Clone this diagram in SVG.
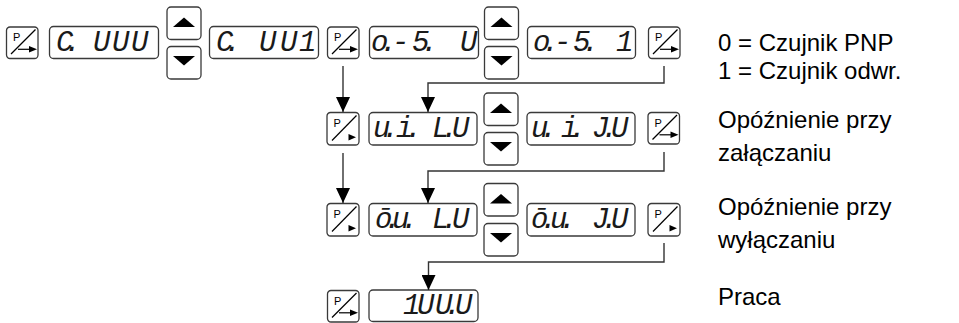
<svg xmlns="http://www.w3.org/2000/svg" width="959" height="323" viewBox="0 0 959 323">
  <style>
    .frame{fill:#fff;stroke:#3a3a3a;stroke-width:1.3}
    .ink{fill:#000;stroke:none}
    .stroke{fill:none;stroke:#000;stroke-width:1.2}
    .pch{font-family:"Liberation Sans",Arial,sans-serif;font-size:11px;fill:#000}
    .seg{font-family:"Liberation Mono","Courier New",monospace;font-style:italic;font-size:29px;fill:#1a1a1a}
    .lbl{font-family:"Liberation Sans",Arial,sans-serif;font-size:24px;fill:#000}
    .wire{fill:none;stroke:#333;stroke-width:1.4}
  </style>
  <defs>
    <!-- P key with arrow shaft -->
    <g id="pkey">
      <rect class="frame" x="0.5" y="0.5" width="31.5" height="31.5" rx="3.5"/>
      <text class="pch" x="7" y="14.5">P</text>
      <line class="stroke" x1="5" y1="27.5" x2="29.5" y2="3"/>
      <line class="stroke" x1="12" y1="22.8" x2="24" y2="22.8" stroke-width="1.7"/>
      <polygon class="ink" points="23,19.6 31,22.8 23,26"/>
    </g>
    <!-- P key with bare triangle -->
    <g id="pkey-tri">
      <rect class="frame" x="0.5" y="0.5" width="32" height="32.5" rx="3.5"/>
      <text class="pch" x="7" y="15">P</text>
      <line class="stroke" x1="5.5" y1="28.5" x2="30" y2="3.5"/>
      <polygon class="ink" points="22,22 29.5,25.3 22,28.5"/>
    </g>
    <g id="key-up">
      <rect class="frame" x="0.5" y="0.5" width="34" height="32.5" rx="4"/>
      <polygon class="ink" points="6.5,20.6 17.5,11 28.5,20.6"/>
    </g>
    <g id="key-down">
      <rect class="frame" x="0.5" y="0.5" width="34" height="32.5" rx="4"/>
      <polygon class="ink" points="6.5,10 28.5,10 17.5,19.6"/>
    </g>
    <marker id="head" markerUnits="userSpaceOnUse" markerWidth="15" markerHeight="14" viewBox="0 0 15 14" refX="15" refY="7" orient="auto">
      <path d="M0,0 L15,7 L0,14 Z" fill="#000"/>
    </marker>
  </defs>

  <!-- row 1: sensor type -->
  <g id="p1"><use href="#pkey" x="6" y="26.5"/></g>
  <g id="disp1">
    <rect class="frame" x="49.5" y="26.5" width="109" height="32" rx="4"/>
    <text class="seg" x="56 64 93 112 131" y="51">C.UUU</text>
  </g>
  <g id="updown1"><use href="#key-up" x="166.5" y="6.5"/><use href="#key-down" x="166.5" y="46"/></g>
  <g id="disp2">
    <rect class="frame" x="209.5" y="26.5" width="109" height="32" rx="4"/>
    <text class="seg" x="216 224 259 280 299" y="51">C.UU1</text>
  </g>
  <g id="p2"><use href="#pkey" x="327" y="26.5"/></g>
  <g id="disp3">
    <rect class="frame" x="369.5" y="26.5" width="109" height="32" rx="4"/>
    <text class="seg" x="371 380 392 412 421 460" y="51">o.-5.U</text>
  </g>
  <g id="updown2"><use href="#key-up" x="484" y="6.5"/><use href="#key-down" x="484" y="46"/></g>
  <g id="disp4">
    <rect class="frame" x="527.5" y="26.5" width="108" height="32" rx="4"/>
    <text class="seg" x="533 542 554 573 582 616" y="51">o.-5.1</text>
  </g>
  <g id="p3"><use href="#pkey" x="648" y="26.5"/></g>

  <!-- row 2: switch-on delay -->
  <g id="p4"><use href="#pkey-tri" x="326.5" y="112"/></g>
  <g id="disp5">
    <rect class="frame" x="369" y="112.5" width="108" height="32.5" rx="4"/>
    <text class="seg" x="373 382 396 405 432 441 452" y="137">u.i.L.U</text>
  </g>
  <g id="updown3"><use href="#key-up" x="483.5" y="92.5"/><use href="#key-down" x="483.5" y="132"/></g>
  <g id="disp6">
    <rect class="frame" x="527" y="112.5" width="108" height="32.5" rx="4"/>
    <text class="seg" x="531 540 561 569 592 601 611" y="137">u.i.J.U</text>
  </g>
  <g id="p5"><use href="#pkey" x="647.5" y="112"/></g>

  <!-- row 3: switch-off delay -->
  <g id="p6"><use href="#pkey-tri" x="326.5" y="203"/></g>
  <g id="disp7">
    <rect class="frame" x="369" y="203.5" width="108" height="32.5" rx="4"/>
    <text class="seg" x="375 384 392 401 432 441 452" y="228">ō.u.L.U</text>
  </g>
  <g id="updown4"><use href="#key-up" x="483.5" y="183"/><use href="#key-down" x="483.5" y="223"/></g>
  <g id="disp8">
    <rect class="frame" x="527" y="203.5" width="108" height="32.5" rx="4"/>
    <text class="seg" x="531 540 550 559 592 601 611" y="228">ō.u.J.U</text>
  </g>
  <g id="p7"><use href="#pkey-tri" x="647.5" y="203"/></g>

  <!-- row 4: run -->
  <g id="p8"><use href="#pkey" x="327" y="290"/></g>
  <g id="disp9">
    <rect class="frame" x="369" y="290" width="109" height="31.5" rx="4"/>
    <text class="seg" x="403 417 435 444 455" y="314">1UU.U</text>
  </g>

  <!-- connectors -->
  <g id="connectors">
    <path class="wire" d="M343,66 V112" marker-end="url(#head)"/>
    <path class="wire" d="M664,66 V83 H428 V112" marker-end="url(#head)"/>
    <path class="wire" d="M343,153 V203" marker-end="url(#head)"/>
    <path class="wire" d="M664,152 V171 H428 V203" marker-end="url(#head)"/>
    <path class="wire" d="M664,243 V262 H428.5 V290" marker-end="url(#head)"/>
  </g>

  <!-- legend -->
  <g id="legend">
    <text class="lbl" x="718" y="51">0 = Czujnik PNP</text>
    <text class="lbl" x="718" y="79">1 = Czujnik odwr.</text>
    <text class="lbl" x="718" y="128">Opóźnienie przy</text>
    <text class="lbl" x="718" y="161">załączaniu</text>
    <text class="lbl" x="718" y="215">Opóźnienie przy</text>
    <text class="lbl" x="718" y="248">wyłączaniu</text>
    <text class="lbl" x="718" y="305">Praca</text>
  </g>
</svg>
